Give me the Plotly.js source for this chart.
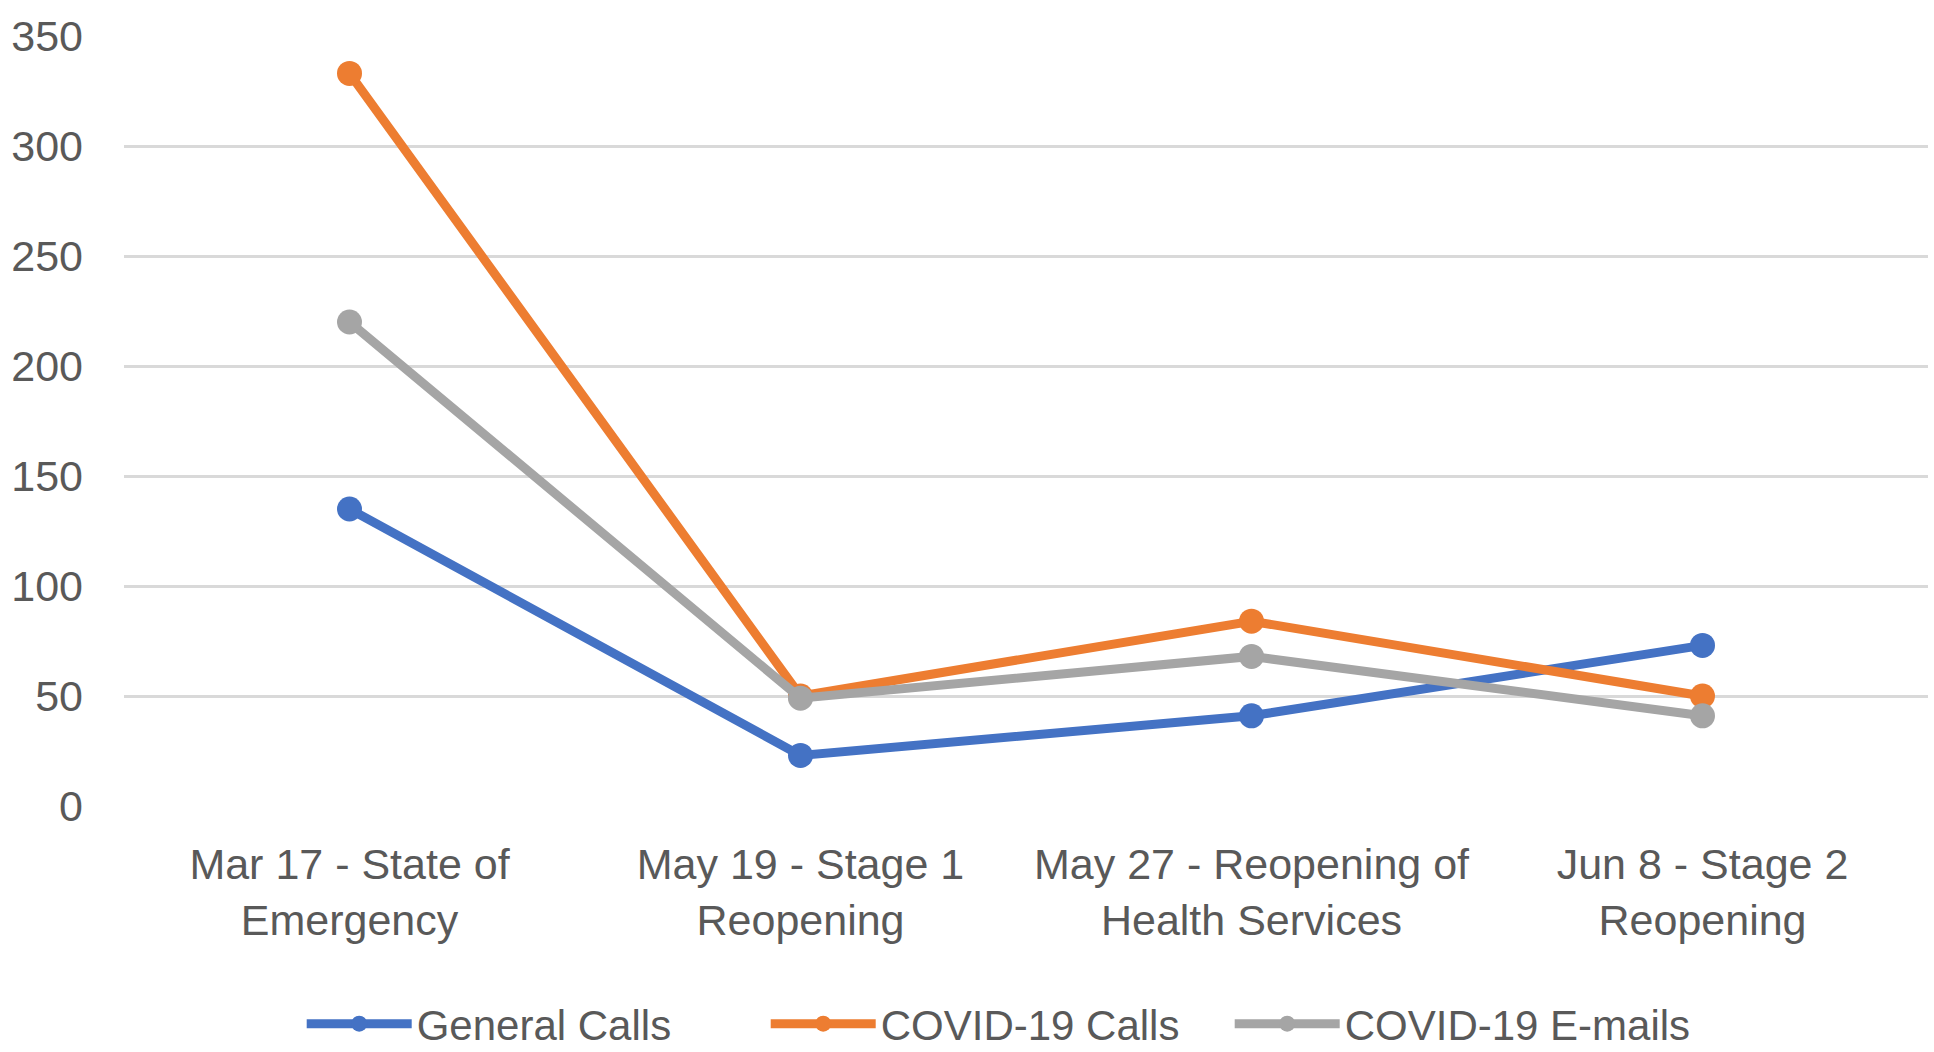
<!DOCTYPE html>
<html>
<head>
<meta charset="utf-8">
<script src="https://cdn.plot.ly/plotly-3.0.1.min.js"></script>
<style>html,body{margin:0;padding:0;background:#fff;}#chart{width:1934px;height:1052px;}</style>
</head>
<body>
<div id="chart"></div>
<script>
const categories = ["Mar 17 - State of<br>Emergency", "May 19 - Stage 1<br>Reopening", "May 27 - Reopening of<br>Health Services", "Jun 8 - Stage 2<br>Reopening"];
const generalCalls = [135, 23, 41, 73];
const covidCalls = [333, 50, 84, 50];
const covidEmails = [220, 49, 68, 41];
const seriesNames = ["General Calls", "COVID-19 Calls", "COVID-19 E-mails"];
const colors = ["#4472C4", "#ED7D31", "#A5A5A5"];

const fontFam = "Liberation Sans, Arial, sans-serif";
const traces = [generalCalls, covidCalls, covidEmails].map((vals, i) => ({
  type: "scatter",
  mode: "lines+markers",
  x: categories,
  y: vals,
  name: seriesNames[i],
  line: {color: colors[i], width: 9},
  marker: {color: colors[i], size: 25}
}));

const layout = {
  width: 1934, height: 1052,
  paper_bgcolor: "#fff", plot_bgcolor: "#fff",
  margin: {l: 124, r: 6, t: 36, b: 246, autoexpand: false},
  font: {family: fontFam, color: "#595959", size: 42},
  showlegend: true,
  legend: {
    orientation: "h", xref: "container", x: 0.156, xanchor: "left", y: -0.283, yanchor: "middle",
    font: {size: 42, color: "#595959"},
    entrywidth: 344, entrywidthmode: "pixels", itemwidth: 105
  },
  xaxis: {
    type: "category", range: [-0.5, 3.5], automargin: false,
    showgrid: false, zeroline: false, showline: false,
    ticks: "", ticklabelstandoff: 29,
    tickfont: {size: 43, color: "#595959"}
  },
  yaxis: {
    range: [0, 350], dtick: 50, tick0: 0, automargin: false,
    showgrid: true, gridcolor: "#D9D9D9", gridwidth: 3,
    zeroline: false, showline: false, ticks: "",
    ticklabelstandoff: 40,
    tickfont: {size: 43, color: "#595959"}
  }
};

Plotly.newPlot("chart", traces, layout, {displayModeBar: false, staticPlot: true});
</script>
</body>
</html>
